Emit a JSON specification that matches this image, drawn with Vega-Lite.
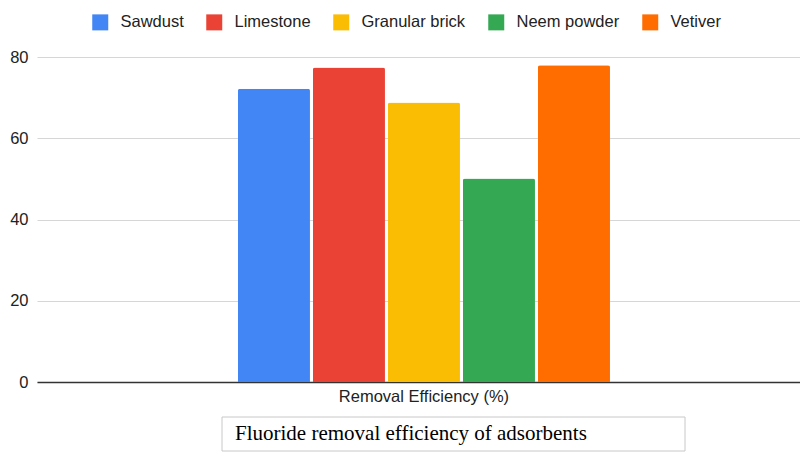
{
  "$schema": "https://vega.github.io/schema/vega-lite/v6.json",
  "padding": {"left": 0, "top": 14, "right": 0, "bottom": 0},
  "config": {
    "view": {"stroke": null},
    "font": "Liberation Sans"
  },
  "datasets": {
    "bars": [
      {"metric": "Removal Efficiency (%)", "material": "Sawdust", "value": 72.2},
      {"metric": "Removal Efficiency (%)", "material": "Limestone", "value": 77.4},
      {"metric": "Removal Efficiency (%)", "material": "Granular brick", "value": 68.8},
      {"metric": "Removal Efficiency (%)", "material": "Neem powder", "value": 50.1},
      {"metric": "Removal Efficiency (%)", "material": "Vetiver", "value": 78.0}
    ],
    "caption": [{"caption": "Fluoride removal efficiency of adsorbents"}]
  },
  "spacing": 11,
  "vconcat": [
    {
      "width": 763,
      "height": 325,
      "data": {"name": "bars"},
      "mark": {"type": "bar", "cornerRadiusTopLeft": 2, "cornerRadiusTopRight": 2},
      "encoding": {
        "x": {
          "field": "metric", "type": "nominal", "title": null,
          "scale": {"paddingInner": 0, "paddingOuter": 0.5255, "align": 0.514},
          "axis": {"labelAngle": 0, "ticks": false, "domain": true, "domainColor": "#333333", "domainWidth": 1.5, "labelFontSize": 16.5, "labelColor": "#222222", "labelPadding": 6}
        },
        "xOffset": {
          "field": "material", "type": "nominal",
          "sort": ["Sawdust", "Limestone", "Granular brick", "Neem powder", "Vetiver"],
          "scale": {"paddingInner": 0.04, "paddingOuter": 0}
        },
        "y": {
          "field": "value", "type": "quantitative",
          "scale": {"domain": [0, 80], "nice": false},
          "axis": {"values": [0, 20, 40, 60, 80], "title": null, "ticks": false, "domain": false, "grid": true, "gridColor": "#d6d6d6", "gridWidth": 1, "labelFontSize": 16.5, "labelColor": "#222222", "labelPadding": 9, "minExtent": 37}
        },
        "color": {
          "field": "material", "type": "nominal",
          "sort": ["Sawdust", "Limestone", "Granular brick", "Neem powder", "Vetiver"],
          "scale": {
            "domain": ["Sawdust", "Limestone", "Granular brick", "Neem powder", "Vetiver"],
            "range": ["#4285F4", "#EA4335", "#FBBC04", "#34A853", "#FF6D01"]
          },
          "legend": {
            "title": null, "orient": "none", "direction": "horizontal",
            "legendX": 55, "legendY": -43,
            "symbolType": "square", "symbolSize": 256, "symbolStrokeWidth": 0, "symbolOpacity": 1,
            "labelFontSize": 16.5, "labelColor": "#222222", "labelOffset": 12, "columnPadding": 22
          }
        }
      }
    },
    {
      "width": 648,
      "height": 34,
      "data": {"name": "caption"},
      "encoding": {
        "x": {"field": "caption", "type": "nominal", "scale": {"type": "band", "paddingInner": 0, "paddingOuter": 0.1998, "align": 1}, "axis": null}
      },
      "layer": [
        {
          "mark": {"type": "rect", "fill": null, "fillOpacity": 0, "stroke": "#c8c8c8", "strokeWidth": 1}
        },
        {
          "mark": {"type": "text", "font": "Liberation Serif", "fontSize": 21, "align": "left", "baseline": "middle", "color": "#000000", "dx": 13},
          "encoding": {
            "text": {"field": "caption", "type": "nominal"},
            "x": {"field": "caption", "type": "nominal", "bandPosition": 0, "axis": null}
          }
        }
      ]
    }
  ]
}
